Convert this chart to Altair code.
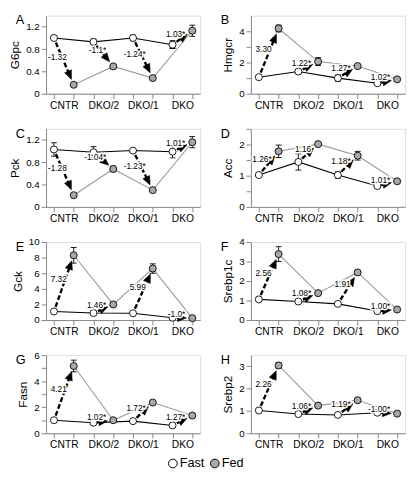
import math
import altair as alt
import pandas as pd

FONT = "Liberation Sans, Arial, Helvetica, sans-serif"

CATEGORIES = ["CNTR", "DKO/2", "DKO/1", "DKO"]
SERIES = ["Fast", "Fed"]
SERIES_FILL = ["white", "#a8a8a8"]
SERIES_LINE = ["black", "#9a9a9a"]

# Panel A: G6pc
G6PC_FAST = [1.00, 0.93, 1.00, 0.88]
G6PC_FED = [0.16, 0.49, 0.28, 1.13]
G6PC_FAST_ERR = [0.02, 0.05, 0.05, 0.07]
G6PC_FED_ERR = [0.02, 0.03, 0.02, 0.10]
G6PC_FOLD = ["-1.32", "-1.1*", "-1.24*", "1.03*"]

# Panel B: Hmgcr
HMGCR_FAST = [1.06, 1.42, 1.00, 0.67]
HMGCR_FED = [4.18, 2.06, 1.77, 0.92]
HMGCR_FAST_ERR = [0.05, 0.12, 0.20, 0.05]
HMGCR_FED_ERR = [0.22, 0.25, 0.08, 0.05]
HMGCR_FOLD = ["3.30", "1.22*", "1.27*", "1.02*"]

# Panel C: Pck
PCK_FAST = [1.03, 0.98, 1.01, 0.99]
PCK_FED = [0.21, 0.68, 0.30, 1.16]
PCK_FAST_ERR = [0.12, 0.10, 0.02, 0.11]
PCK_FED_ERR = [0.02, 0.05, 0.02, 0.10]
PCK_FOLD = ["-1.28", "-1.04*", "-1.23*", "1.01*"]

# Panel D: Acc
ACC_FAST = [1.02, 1.44, 1.02, 0.67]
ACC_FED = [1.78, 2.01, 1.64, 0.82]
ACC_FAST_ERR = [0.03, 0.26, 0.10, 0.02]
ACC_FED_ERR = [0.20, 0.03, 0.14, 0.03]
ACC_FOLD = ["1.26*", "1.16", "1.18*", "1.01*"]

# Panel E: Gck
GCK_FAST = [1.10, 0.90, 0.87, 0.30]
GCK_FED = [8.30, 2.00, 6.60, 0.25]
GCK_FAST_ERR = [0.10, 0.10, 0.10, 0.05]
GCK_FED_ERR = [1.00, 0.25, 0.60, 0.05]
GCK_FOLD = ["7.32", "1.46*", "5.99", "-1.0*"]

# Panel F: Srebp1c
SREBP1C_FAST = [1.06, 0.95, 0.83, 0.46]
SREBP1C_FED = [3.38, 1.38, 2.44, 0.54]
SREBP1C_FAST_ERR = [0.10, 0.03, 0.03, 0.03]
SREBP1C_FED_ERR = [0.38, 0.05, 0.10, 0.03]
SREBP1C_FOLD = ["2.56", "1.08*", "1.91", "1.00*"]

# Panel G: Fasn
FASN_FAST = [1.00, 0.81, 0.93, 0.60]
FASN_FED = [5.17, 1.00, 2.36, 1.36]
FASN_FAST_ERR = [0.05, 0.05, 0.05, 0.05]
FASN_FED_ERR = [0.45, 0.05, 0.05, 0.05]
FASN_FOLD = ["4.21", "1.02*", "1.72*", "1.27*"]

# Panel H: Srebp2
SREBP2_FAST = [1.02, 0.86, 0.82, 0.92]
SREBP2_FED = [3.04, 1.24, 1.48, 0.88]
SREBP2_FAST_ERR = [0.03, 0.03, 0.03, 0.03]
SREBP2_FED_ERR = [0.12, 0.05, 0.08, 0.03]
SREBP2_FOLD = ["2.26", "1.06*", "1.19*", "-1.00*"]

PANELS = [
    dict(letter="A", gene="G6pc", fast=G6PC_FAST, fed=G6PC_FED, fast_err=G6PC_FAST_ERR,
         fed_err=G6PC_FED_ERR, fold=G6PC_FOLD, ymax=1.4, ticks=[0, 0.4, 0.8, 1.2], labels=[0, 0.4, 0.8, 1.2]),
    dict(letter="B", gene="Hmgcr", fast=HMGCR_FAST, fed=HMGCR_FED, fast_err=HMGCR_FAST_ERR,
         fed_err=HMGCR_FED_ERR, fold=HMGCR_FOLD, ymax=5, ticks=[0, 1, 2, 3, 4], labels=[0, 2, 4]),
    dict(letter="C", gene="Pck", fast=PCK_FAST, fed=PCK_FED, fast_err=PCK_FAST_ERR,
         fed_err=PCK_FED_ERR, fold=PCK_FOLD, ymax=1.4, ticks=[0, 0.4, 0.8, 1.2], labels=[0, 0.4, 0.8, 1.2]),
    dict(letter="D", gene="Acc", fast=ACC_FAST, fed=ACC_FED, fast_err=ACC_FAST_ERR,
         fed_err=ACC_FED_ERR, fold=ACC_FOLD, ymax=2.5, ticks=[0, 0.5, 1, 1.5, 2, 2.5], labels=[0, 1, 2]),
    dict(letter="E", gene="Gck", fast=GCK_FAST, fed=GCK_FED, fast_err=GCK_FAST_ERR,
         fed_err=GCK_FED_ERR, fold=GCK_FOLD, ymax=10, ticks=[0, 2, 4, 6, 8, 10], labels=[0, 2, 4, 6, 8, 10]),
    dict(letter="F", gene="Srebp1c", fast=SREBP1C_FAST, fed=SREBP1C_FED, fast_err=SREBP1C_FAST_ERR,
         fed_err=SREBP1C_FED_ERR, fold=SREBP1C_FOLD, ymax=4, ticks=[0, 1, 2, 3, 4], labels=[0, 1, 2, 3, 4]),
    dict(letter="G", gene="Fasn", fast=FASN_FAST, fed=FASN_FED, fast_err=FASN_FAST_ERR,
         fed_err=FASN_FED_ERR, fold=FASN_FOLD, ymax=6, ticks=[0, 1, 2, 3, 4, 5, 6], labels=[0, 2, 4, 6]),
    dict(letter="H", gene="Srebp2", fast=SREBP2_FAST, fed=SREBP2_FED, fast_err=SREBP2_FAST_ERR,
         fed_err=SREBP2_FED_ERR, fold=SREBP2_FOLD, ymax=3.5, ticks=[0, 1, 2, 3], labels=[0, 1, 2, 3]),
]

W, H = 158, 80
COL_GAP, ROW_GAP = 52, 36
XMIN, XMAX = -0.4, 7.4
PX = W / (XMAX - XMIN)          # pixels per x unit
ARROW_PATH = "M0,-1L0.85,1L-0.85,1Z"
HEAD = 9.0                      # arrowhead length (px)
GAP_START, GAP_END = 5.0, 6.0   # gaps to the circles (px)
KEY_X0, KEY_STEP, KEY_DY = 130, 43, 31   # key placement below the bottom-left panel

x_label_expr = " : ".join(
    f"datum.value == {2 * i} ? '{c}'" for i, c in enumerate(CATEGORIES)
) + " : ''"

XSCALE = alt.Scale(domain=[XMIN, XMAX], nice=False, zero=False)
XAXIS = alt.Axis(values=list(range(8)), labelExpr=x_label_expr, title=None,
                 labelOffset=PX / 2, labelOverlap=False, labelFlush=False,
                 grid=False, labelFontSize=10.5)
FILL_SCALE = alt.Scale(domain=SERIES, range=SERIES_FILL)


def key_layers():
    layers = []
    for idx, s in enumerate(SERIES):
        d = pd.DataFrame({"series": [s]})
        layers.append(alt.Chart(d).mark_circle(size=80, stroke="black", strokeWidth=1, opacity=1).encode(
            x=alt.value(KEY_X0 + KEY_STEP * idx), y=alt.value(H + KEY_DY),
            fill=alt.Fill("series:N", scale=FILL_SCALE, legend=None)))
        layers.append(alt.Chart(d).mark_text(font=FONT, fontSize=13, align="left", baseline="middle",
                                             color="black").encode(
            x=alt.value(KEY_X0 + KEY_STEP * idx + 7), y=alt.value(H + KEY_DY), text="series:N"))
    return layers


def build_panel(p, with_key=False):
    py = H / p["ymax"]
    pts, errs, caps, arrows = [], [], [], []
    for i, cat in enumerate(CATEGORIES):
        for j, (s, vals, ev) in enumerate([("Fast", p["fast"], p["fast_err"]),
                                           ("Fed", p["fed"], p["fed_err"])]):
            k = 2 * i + j
            v = vals[i]
            e = ev[i]
            pts.append(dict(k=k, v=v, series=s, line=s + " line"))
            if e > 0:
                errs.append(dict(k=k, lo=v - e, hi=v + e))
                caps.append(dict(k=k, c=v - e))
                caps.append(dict(k=k, c=v + e))
        # arrow from fast point to fed point, computed in pixel space
        k0, v0 = 2 * i, p["fast"][i]
        k1, v1 = 2 * i + 1, p["fed"][i]
        dxp = (k1 - k0) * PX
        dyp = -(v1 - v0) * py
        L = math.hypot(dxp, dyp)
        ux, uy = dxp / L, dyp / L
        s0 = min(GAP_START, max(0.0, L - GAP_END - HEAD - 2))
        tipx, tipy = dxp - ux * GAP_END, dyp - uy * GAP_END
        cx, cy = tipx - ux * HEAD / 2, tipy - uy * HEAD / 2
        sx, sy = ux * s0, uy * s0
        ang = math.degrees(math.atan2(ux, -uy)) % 360
        arrows.append(dict(
            ax0=k0 + sx / PX, ay0=v0 - sy / py,
            ax1=k0 + cx / PX, ay1=v0 - cy / py,
            hx=k0 + cx / PX, hy=v0 - cy / py, ang=ang,
            mx=(k0 + k1) / 2, my=(v0 + v1) / 2, label=p["fold"][i]))

    df_pts = pd.DataFrame(pts)
    df_err = pd.DataFrame(errs)
    df_caps = pd.DataFrame(caps)
    df_arr = pd.DataFrame(arrows)

    yscale = alt.Scale(domain=[0, p["ymax"]], nice=False, zero=True)
    if p["labels"] != p["ticks"]:
        ylabel_expr = f"indexof({p['labels']}, datum.value) >= 0 ? datum.label : ''"
    else:
        ylabel_expr = "datum.label"
    yaxis = alt.Axis(values=p["ticks"], format=".2~f", labelExpr=ylabel_expr,
                     title=p["gene"], titleFontWeight="normal", titleFontSize=12,
                     grid=False, labelOverlap=False, labelFlush=False)

    def X(f):
        return alt.X(f"{f}:Q", scale=XSCALE, axis=XAXIS)

    def Y(f):
        return alt.Y(f"{f}:Q", scale=yscale, axis=yaxis)

    lines = alt.Chart(df_pts).mark_line(strokeWidth=1.1).encode(
        x=X("k"), y=Y("v"),
        stroke=alt.Stroke("line:N", scale=alt.Scale(domain=[s + " line" for s in SERIES], range=SERIES_LINE),
                          legend=None),
        detail="line:N")
    err_rule = alt.Chart(df_err).mark_rule(color="black", strokeWidth=0.9).encode(
        x=X("k"), y=Y("lo"), y2="hi:Q")
    err_caps = alt.Chart(df_caps).mark_tick(color="black", orient="horizontal", size=6,
                                            thickness=0.9, opacity=1).encode(
        x=X("k"), y=Y("c"))
    points = alt.Chart(df_pts).mark_circle(size=52, stroke="black", strokeWidth=0.9, opacity=1).encode(
        x=X("k"), y=Y("v"),
        fill=alt.Fill("series:N", scale=FILL_SCALE, legend=None))
    shafts = alt.Chart(df_arr).mark_rule(color="black", strokeWidth=2.4, strokeDash=[5, 2.5]).encode(
        x=X("ax0"), y=Y("ay0"), x2="ax1:Q", y2="ay1:Q")
    heads = alt.Chart(df_arr).mark_point(shape=ARROW_PATH, filled=True, fill="black", stroke="black",
                                         strokeWidth=0.5, size=HEAD * HEAD, opacity=1).encode(
        x=X("hx"), y=Y("hy"), angle=alt.Angle("ang:Q", scale=None))
    halo = alt.Chart(df_arr).mark_text(font=FONT, fontSize=8.5, align="right", baseline="middle",
                                       dx=3, dy=-4, stroke="white", strokeWidth=3,
                                       strokeJoin="round", fill="white").encode(
        x=X("mx"), y=Y("my"), text="label:N")
    text = alt.Chart(df_arr).mark_text(font=FONT, fontSize=8.5, align="right", baseline="middle",
                                       dx=3, dy=-4, color="black").encode(
        x=X("mx"), y=Y("my"), text="label:N")
    # panel letter, placed in the top-left corner beside the y axis
    letter = alt.Chart(pd.DataFrame({"letter": [p["letter"]]})).mark_text(
        font=FONT, fontSize=13, align="left", baseline="top", color="black").encode(
        x=alt.value(-31), y=alt.value(-1), text="letter:N")

    layers = [lines, err_rule, err_caps, points, shafts, heads, halo, text, letter]
    if with_key:
        layers += key_layers()
    return alt.layer(*layers).properties(width=W, height=H)


charts = [build_panel(p, with_key=(idx == 6)) for idx, p in enumerate(PANELS)]

chart = alt.concat(*charts, columns=2, spacing={"row": ROW_GAP, "column": COL_GAP}, bounds="flush").resolve_scale(
    x="independent", y="independent", fill="shared", stroke="shared"
).configure_view(stroke=None).configure_axis(
    domainColor="black", tickColor="black", labelColor="black", titleColor="black",
    labelFont=FONT, titleFont=FONT, labelFontSize=10, titleFontSize=12,
    titleFontWeight="normal", tickSize=3, domainWidth=1, tickWidth=1,
    labelPadding=2, titlePadding=3
).configure(padding=0, background="white")

chart.save("out.html", embed_options={"renderer": "svg", "actions": False})
